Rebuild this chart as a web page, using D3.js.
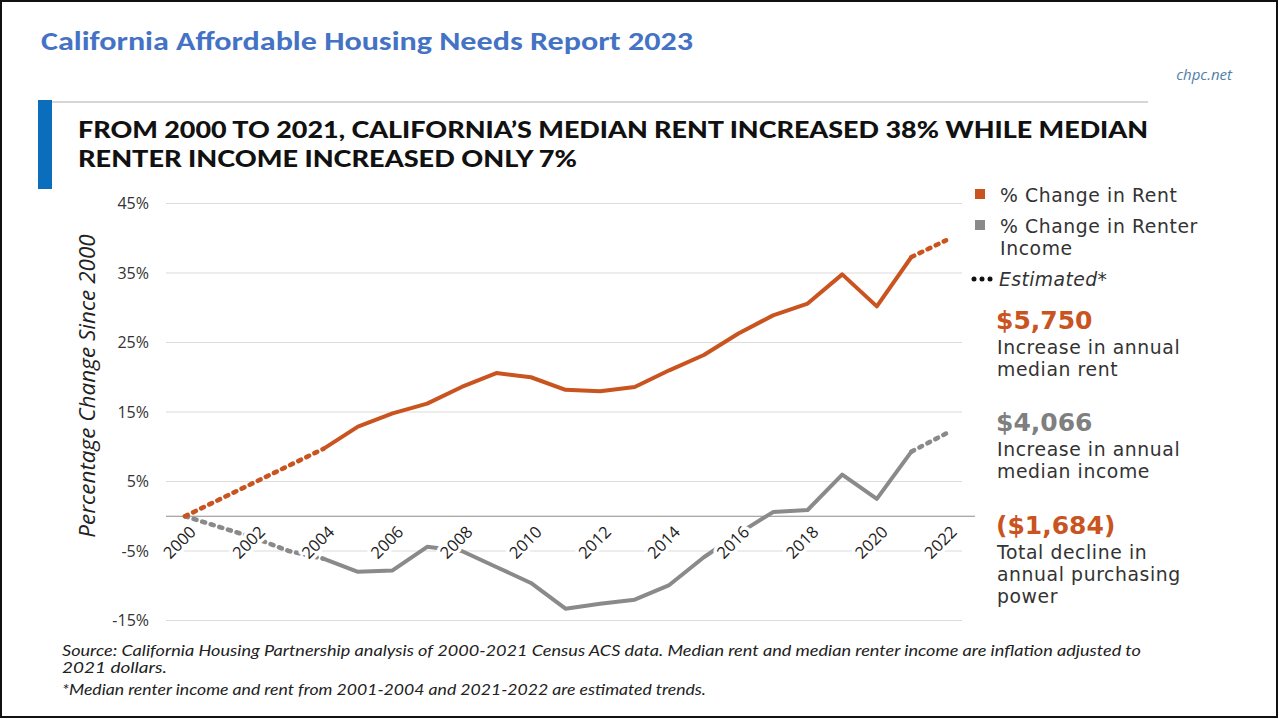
<!DOCTYPE html>
<html>
<head>
<meta charset="utf-8">
<script src="https://cdn.jsdelivr.net/npm/d3@7"></script>
<style>
  body { margin: 0; background: #fff; }
  svg { display: block; }
</style>
</head>
<body>
<svg id="chart" width="1279" height="719"></svg>
<script>
// ---- Data: % change since 2000 (inflation adjusted) ----
const rentYears   = [2004, 2005, 2006, 2007, 2008, 2009, 2010, 2011, 2012, 2013, 2014, 2015, 2016, 2017, 2018, 2019, 2020, 2021];
const rentValues  = [9.7, 12.9, 14.8, 16.2, 18.6, 20.6, 20.0, 18.2, 18.0, 18.6, 21.0, 23.2, 26.3, 28.9, 30.6, 34.8, 30.2, 37.3];
const rentEstEarlyYears  = [2000, 2004];
const rentEstEarlyValues = [0, 9.7];
const rentEstLateYears   = [2021, 2022];
const rentEstLateValues  = [37.3, 39.7];

const incomeYears  = [2004, 2005, 2006, 2007, 2008, 2009, 2010, 2011, 2012, 2013, 2014, 2015, 2016, 2017, 2018, 2019, 2020, 2021];
const incomeValues = [-6.1, -8.0, -7.8, -4.4, -5.0, -7.3, -9.6, -13.3, -12.6, -12.0, -9.9, -5.9, -2.5, 0.6, 0.9, 6.0, 2.5, 9.3];
const incomeEstEarlyYears  = [2000, 2002, 2003, 2004];
const incomeEstEarlyValues = [0, -3.1, -5.0, -6.1];
const incomeEstLateYears   = [2021, 2022];
const incomeEstLateValues  = [9.3, 11.9];

const xTickYears = [2000, 2002, 2004, 2006, 2008, 2010, 2012, 2014, 2016, 2018, 2020, 2022];
const yTickValues = [-15, -5, 5, 15, 25, 35, 45];

const legendItems = ["% Change in Rent", "% Change in Renter|Income"];
const callouts = [
  { value: "$5,750",   lines: ["Increase in annual", "median rent"] },
  { value: "$4,066",   lines: ["Increase in annual", "median income"] },
  { value: "($1,684)", lines: ["Total decline in", "annual purchasing", "power"] }
];

const RENT = "#c9541f";
const INCOME = "#8a8a8a";
const BODY_FONT = "Lato, 'Noto Sans', sans-serif";
const AXIS_FONT = "'Open Sans', 'Noto Sans', sans-serif";
const SIDE_FONT = "'DejaVu Sans', 'Open Sans', sans-serif";

const svg = d3.select("#chart");

// page frame
svg.append("rect").attr("x", 1).attr("y", 1).attr("width", 1276).attr("height", 716)
  .attr("fill", "#fff").attr("stroke", "#111").attr("stroke-width", 2);

// report heading
svg.append("text").attr("x", 41).attr("y", 50)
  .attr("font-family", "Carlito, 'Liberation Sans Narrow', 'Open Sans', sans-serif")
  .attr("font-weight", 700).attr("font-size", 27).attr("fill", "#4472c4")
  .attr("textLength", 652).attr("lengthAdjust", "spacingAndGlyphs")
  .text("California Affordable Housing Needs Report 2023");

svg.append("text").attr("x", 1232).attr("y", 80).attr("text-anchor", "end")
  .attr("font-family", AXIS_FONT).attr("font-style", "italic")
  .attr("font-size", 15).attr("fill", "#4f80a8").text("chpc.net");

// header rule and accent bar
svg.append("line").attr("x1", 52).attr("x2", 1148).attr("y1", 102).attr("y2", 102)
  .attr("stroke", "#c8c8c8").attr("stroke-width", 1.5);
svg.append("rect").attr("x", 38).attr("y", 100).attr("width", 14).attr("height", 89)
  .attr("fill", "#0a6ebd");

const headLines = [
  { t: "FROM 2000 TO 2021, CALIFORNIA\u2019S MEDIAN RENT INCREASED 38% WHILE MEDIAN", w: 1070, y: 138 },
  { t: "RENTER INCOME INCREASED ONLY 7%", w: 499, y: 167 }
];
svg.selectAll("text.head").data(headLines).join("text").attr("class", "head")
  .attr("x", 78).attr("y", d => d.y)
  .attr("font-family", BODY_FONT).attr("font-weight", 900).attr("font-size", 22)
  .attr("fill", "#111").attr("textLength", d => d.w).attr("lengthAdjust", "spacingAndGlyphs")
  .text(d => d.t);

// ---- scales ----
const x = d3.scaleLinear().domain([2000, 2022]).range([185, 946]);
const y = d3.scaleLinear().domain([-15, 45]).range([620.5, 203.5]);

// horizontal gridlines
svg.append("g").selectAll("line").data(yTickValues).join("line")
  .attr("x1", 166).attr("x2", 962)
  .attr("y1", d => y(d)).attr("y2", d => y(d))
  .attr("stroke", "#dcdcdc").attr("stroke-width", 1.2);
// zero baseline
svg.append("line").attr("x1", 166).attr("x2", 975).attr("y1", y(0)).attr("y2", y(0))
  .attr("stroke", "#8c8c8c").attr("stroke-width", 1.2);

// y axis labels
const yAxis = d3.axisLeft(y).tickValues(yTickValues).tickFormat(d => d + "%").tickSize(0).tickPadding(0);
const yg = svg.append("g").attr("transform", "translate(149,0)").call(yAxis);
yg.select(".domain").remove();
yg.selectAll("text").attr("font-family", AXIS_FONT).attr("font-size", 16).attr("fill", "#333");

svg.append("text")
  .attr("transform", `translate(95,${386}) rotate(-90)`)
  .attr("text-anchor", "middle")
  .attr("font-family", AXIS_FONT).attr("font-style", "italic").attr("font-size", 22.5).attr("fill", "#222")
  .text("Percentage Change Since 2000");

// ---- lines ----
const line = d3.line().x(d => x(d[0])).y(d => y(d[1])).curve(d3.curveLinear);
const zip = (a, b) => a.map((v, i) => [v, b[i]]);
const series = [
  { pts: zip(incomeEstEarlyYears, incomeEstEarlyValues), c: INCOME, est: true },
  { pts: zip(incomeYears, incomeValues), c: INCOME, est: false },
  { pts: zip(incomeEstLateYears, incomeEstLateValues), c: INCOME, est: true },
  { pts: zip(rentEstEarlyYears, rentEstEarlyValues), c: RENT, est: true },
  { pts: zip(rentYears, rentValues), c: RENT, est: false },
  { pts: zip(rentEstLateYears, rentEstLateValues), c: RENT, est: true }
];
svg.append("g").selectAll("path").data(series).join("path")
  .attr("d", d => line(d.pts))
  .attr("fill", "none").attr("stroke", d => d.c)
  .attr("stroke-width", d => d.est ? 4.6 : 4)
  .attr("stroke-linecap", d => d.est ? "round" : "butt")
  .attr("stroke-linejoin", "round")
  .attr("stroke-dasharray", d => d.est ? "3 6" : null);

// x axis labels, drawn over lines with a white halo
const xg = svg.append("g");
xg.selectAll("text").data(xTickYears).join("text")
  .attr("transform", d => `translate(${x(d) + 12},${533}) rotate(-45)`)
  .attr("text-anchor", "end")
  .attr("font-family", AXIS_FONT).attr("font-size", 16.5).attr("fill", "#222")
  .attr("stroke", "#fff").attr("stroke-width", 7).attr("paint-order", "stroke")
  .attr("stroke-linejoin", "round")
  .text(d => d);

// ---- legend ----
const lg = svg.append("g").attr("font-family", SIDE_FONT).attr("fill", "#333");
lg.append("rect").attr("x", 975).attr("y", 189).attr("width", 10).attr("height", 10).attr("fill", RENT);
lg.append("rect").attr("x", 975).attr("y", 220).attr("width", 10).attr("height", 10).attr("fill", INCOME);
legendItems.forEach((t, i) => {
  const tx = lg.append("text").attr("x", 1000).attr("y", 202 + i * 31)
    .attr("font-size", 18.8).attr("letter-spacing", 0.6);
  t.split("|").forEach((s, j) => tx.append("tspan").attr("x", 1000).attr("dy", j ? 22 : 0).text(s));
});
lg.selectAll("circle").data([0, 1, 2]).join("circle")
  .attr("cx", d => 974 + d * 8).attr("cy", 279).attr("r", 2.5).attr("fill", "#111");
lg.append("text").attr("x", 999).attr("y", 286).attr("font-size", 18.8).attr("font-style", "italic")
  .attr("letter-spacing", 0.4).attr("fill", "#333").text("Estimated*");

// ---- callouts ----
const calloutTop = [329, 431, 534];
const calloutColor = [RENT, "#7f7f7f", RENT];
callouts.forEach((c, i) => {
  svg.append("text").attr("x", 996).attr("y", calloutTop[i])
    .attr("font-family", SIDE_FONT).attr("font-weight", 700).attr("font-size", 25)
    .attr("fill", calloutColor[i]).text(c.value);
  c.lines.forEach((s, j) => svg.append("text").attr("x", 997).attr("y", calloutTop[i] + 25 + j * 22)
    .attr("font-family", SIDE_FONT).attr("font-size", 18.8).attr("letter-spacing", 0.6)
    .attr("fill", "#333").text(s));
});

// ---- footnotes ----
const notes = [
  { t: "Source: California Housing Partnership analysis of 2000-2021 Census ACS data. Median rent and median renter income are inflation adjusted to", w: 1079, y: 656 },
  { t: "2021 dollars.", w: 105, y: 673 },
  { t: "*Median renter income and rent from 2001-2004 and 2021-2022 are estimated trends.", w: 644, y: 695 }
];
svg.selectAll("text.note").data(notes).join("text").attr("class", "note")
  .attr("x", 62).attr("y", d => d.y)
  .attr("font-family", BODY_FONT).attr("font-style", "italic").attr("font-size", 14.5)
  .attr("fill", "#222").attr("textLength", d => d.w).attr("lengthAdjust", "spacingAndGlyphs")
  .text(d => d.t);
</script>
</body>
</html>
